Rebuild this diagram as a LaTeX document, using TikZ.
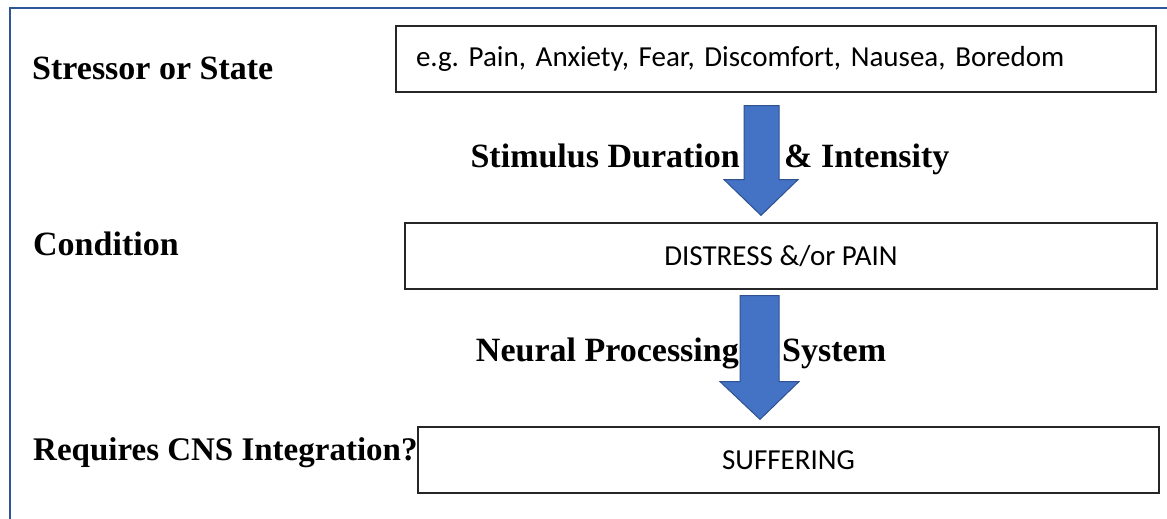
\documentclass[tikz,border=0pt]{standalone}
\usepackage{fontspec}
\setmainfont{Liberation Serif}
\newfontfamily\boxfont{Carlito}
\usetikzlibrary{calc}
\definecolor{framecol}{HTML}{2F5597}
\definecolor{arrowfill}{HTML}{4472C4}
\definecolor{arrowline}{HTML}{2F528F}
\frenchspacing
\tikzset{
  lbl/.style={font=\fontsize{34}{40}\selectfont\bfseries, inner sep=0pt},
  stagebox/.style={draw=black!85, line width=1.2pt, font=\boxfont\fontsize{29}{34}\selectfont, inner sep=0pt},
  blockarrow/.style={fill=arrowfill, draw=arrowline, line width=1pt, line join=miter}
}
\begin{document}
\begin{tikzpicture}[x=1pt,y=-1pt]
\useasboundingbox (0,0) rectangle (1167,519);
\fill[white] (0,0) rectangle (1167,519);
% frame
\coordinate (fbl) at (9.5,519);
\coordinate (ftl) at (9.5,8);
\coordinate (ftr) at (1167,8);
\draw[framecol, line width=2pt] (fbl) -- (ftl) -- (ftr);

% boxes
\node[stagebox, minimum width=760, minimum height=66, text width=720, align=left, inner xsep=20pt] (b1) at (776,59) {e.g.\ Pain, Anxiety, Fear, Discomfort, Nausea, Boredom};
\node[stagebox, minimum width=752, minimum height=66] (b2) at (781,256) {DISTRESS \&/or PAIN};
\node[stagebox, minimum width=741, minimum height=66] (b3) at (788.5,460) {SUFFERING};

% left labels
\node[lbl, anchor=base west] (l1) at (32,79) {Stressor or State};
\node[lbl, anchor=base west] (l2) at (33,255) {Condition};
\node[lbl, anchor=base west, font=\fontsize{33}{40}\selectfont\bfseries] (l3) at (33,460) {Requires CNS Integration?};

% arrow labels
\node[lbl, anchor=base east] (t1a) at (740,167) {Stimulus Duration};
\node[lbl, anchor=base west] (t1b) at (784,167) {\& Intensity};
\node[lbl, anchor=base east] (t2a) at (739,361) {Neural Processing};
\node[lbl, anchor=base west] (t2b) at (782,361) {System};

% block arrow 1 (b1 -> b2)
\coordinate (a1s) at ($(b1.south)+(-14.5,13)$);
\coordinate (a1t) at ($(b2.north)+(-20,-7)$);
\draw[blockarrow] ($(a1s)+(-17.5,0)$) -- ($(a1s)+(17.5,0)$) -- ($(a1s)+(17.5,74)$) -- ($(a1s)+(36.5,74)$)
  -- (a1t) -- ($(a1s)+(-37.5,74)$) -- ($(a1s)+(-17.5,74)$) -- cycle;

% block arrow 2 (b2 -> b3)
\coordinate (a2s) at ($(b2.south)+(-21.5,6)$);
\coordinate (a2t) at ($(b3.north)+(-28.5,-7)$);
\draw[blockarrow] ($(a2s)+(-19.5,0)$) -- ($(a2s)+(19.5,0)$) -- ($(a2s)+(19.5,86)$) -- ($(a2s)+(39.5,86)$)
  -- (a2t) -- ($(a2s)+(-39.5,86)$) -- ($(a2s)+(-19.5,86)$) -- cycle;
\end{tikzpicture}
\end{document}
